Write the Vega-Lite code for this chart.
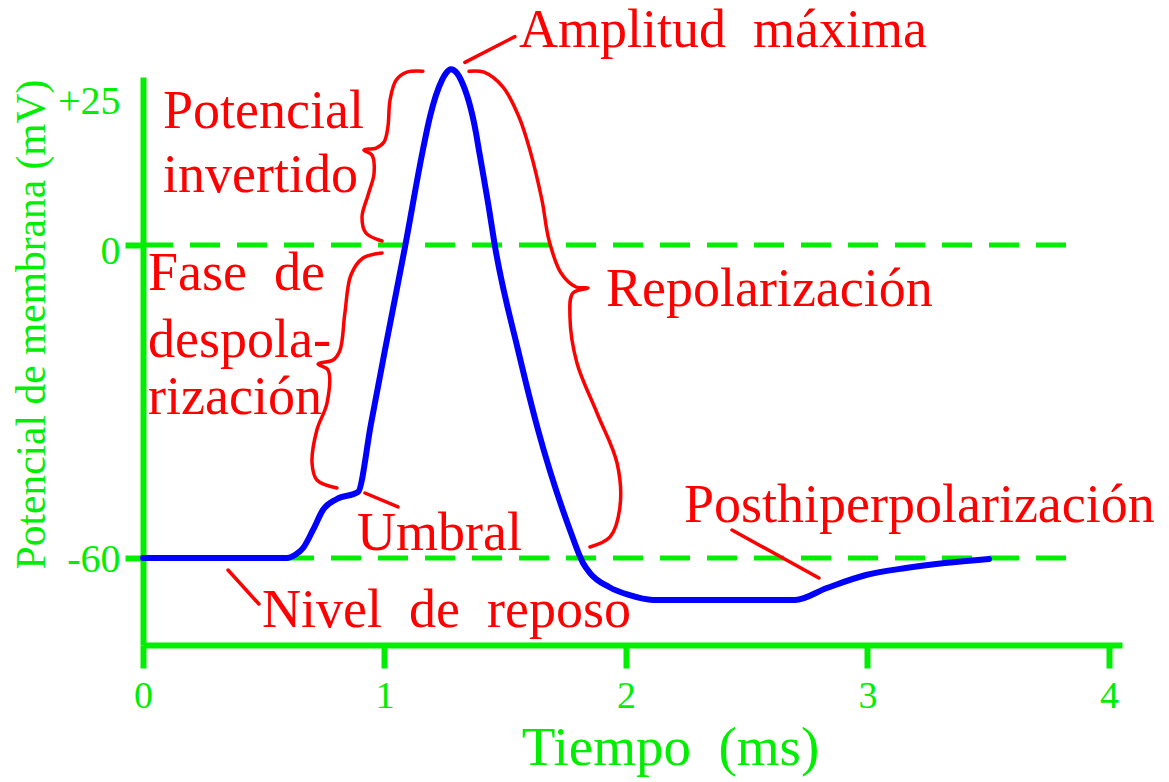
{
  "$schema": "https://vega.github.io/schema/vega-lite/v6.json",
  "autosize": "none",
  "width": 979,
  "height": 568,
  "padding": {"left": 143, "top": 77, "right": 47, "bottom": 137},
  "background": "white",
  "config": {"view": {"stroke": null}, "axis": {"grid": false}},
  "encoding": {
    "x": {
      "field": "t", "type": "quantitative",
      "scale": {"domain": [0, 4.054], "nice": false, "zero": false},
      "axis": {
        "values": [0, 1, 2, 3, 4], "grid": false,
        "domainColor": "#00ee00", "domainWidth": 6,
        "tickColor": "#00ee00", "tickWidth": 6, "tickSize": 23,
        "labelColor": "#00ee00", "labelFont": "Liberation Serif", "labelFontSize": 38,
        "labelPadding": 9, "labelAngle": 0, "labelFlush": false, "labelOverlap": false,
        "title": "Tiempo\u00a0\u00a0(ms)", "titleColor": "#00ee00", "titleFont": "Liberation Serif",
        "titleFontSize": 55, "titleFontWeight": "normal",
        "titleX": 527, "titleY": 119, "titleAlign": "center", "titleBaseline": "alphabetic"
      }
    },
    "y": {
      "field": "v", "type": "quantitative",
      "scale": {"domain": [-76.68, -60, 0, 25, 29], "range": [568, 481, 168, 23, 0], "nice": false, "zero": false},
      "axis": {
        "values": [-60, 0, 25], "grid": false,
        "domainColor": "#00ee00", "domainWidth": 6,
        "tickColor": "#00ee00", "tickWidth": 6, "tickSize": 18,
        "tickOpacity": {"condition": {"test": "datum.value == 25", "value": 0}, "value": 1},
        "labelExpr": "datum.value == 25 ? '+25' : (datum.value == 0 ? '0' : '-60')",
        "labelColor": "#00ee00", "labelFont": "Liberation Serif", "labelFontSize": 40,
        "labelPadding": 5, "labelBaseline": "middle",
        "labelOffset": {"condition": {"test": "datum.value == 0", "value": 6}, "value": 1},
        "title": "Potencial de membrana (mV)", "titleColor": "#00ee00", "titleFont": "Liberation Serif",
        "titleFontSize": 41.5, "titleFontWeight": "normal", "titleAngle": 270,
        "titleX": -111, "titleY": 247, "titleAlign": "center", "titleBaseline": "middle"
      }
    }
  },
  "layer": [
    {
      "data": {"values": [
        {"t": 0, "t2": 3.867, "v": 0},
        {"t": 0, "t2": 3.867, "v": -60}
      ]},
      "mark": {"type": "rule", "color": "#00ee00", "strokeWidth": 5, "strokeDash": [30, 17]},
      "encoding": {"x2": {"field": "t2"}}
    },
    {
      "data": {"values": [
        {"t": 0, "v": -60}, {"t": 0.596, "v": -60}, {"t": 0.629, "v": -59.42}, {"t": 0.663, "v": -58.08},
        {"t": 0.704, "v": -54.63}, {"t": 0.745, "v": -50.8}, {"t": 0.803, "v": -48.69}, {"t": 0.89, "v": -47.35},
        {"t": 0.944, "v": -34.31}, {"t": 1.002, "v": -20.13}, {"t": 1.085, "v": -0.38}, {"t": 1.159, "v": 16.38},
        {"t": 1.188, "v": 22.07}, {"t": 1.238, "v": 28.45},
        {"t": 1.255, "v": 29.66}, {"t": 1.275, "v": 30.34}, {"t": 1.3, "v": 29.66}, {"t": 1.317, "v": 28.45},
        {"t": 1.379, "v": 19.31}, {"t": 1.391, "v": 16.38}, {"t": 1.429, "v": 7.24}, {"t": 1.458, "v": -0.38},
        {"t": 1.553, "v": -20.13}, {"t": 1.636, "v": -35.46}, {"t": 1.768, "v": -54.63}, {"t": 1.822, "v": -60.96},
        {"t": 1.851, "v": -62.88}, {"t": 1.93, "v": -65.56}, {"t": 2.012, "v": -67.09}, {"t": 2.112, "v": -68.05},
        {"t": 2.7, "v": -68.05}, {"t": 2.832, "v": -65.75}, {"t": 2.994, "v": -63.26}, {"t": 3.159, "v": -61.92},
        {"t": 3.321, "v": -60.96}, {"t": 3.503, "v": -60.19}
      ]},
      "mark": {"type": "line", "color": "#0000ff", "strokeWidth": 6, "strokeCap": "round", "strokeJoin": "round", "interpolate": "monotone", "clip": false},
      "encoding": {}
    },
    {
      "data": {"values": [
        {"id": "b1", "i": 1, "t": 1.159, "v": 30.0}, {"id": "b1", "i": 2, "t": 1.093, "v": 29.83},
        {"id": "b1", "i": 3, "t": 1.048, "v": 28.45}, {"id": "b1", "i": 4, "t": 1.023, "v": 25.0},
        {"id": "b1", "i": 5, "t": 1.014, "v": 20.34}, {"id": "b1", "i": 6, "t": 0.998, "v": 17.76},
        {"id": "b1", "i": 7, "t": 0.965, "v": 16.72}, {"id": "b1", "i": 8, "t": 0.915, "v": 16.38},
        {"id": "b1", "i": 9, "t": 0.948, "v": 15.52}, {"id": "b1", "i": 10, "t": 0.957, "v": 12.41},
        {"id": "b1", "i": 11, "t": 0.932, "v": 8.62}, {"id": "b1", "i": 12, "t": 0.907, "v": 4.83},
        {"id": "b1", "i": 13, "t": 0.923, "v": 2.07}, {"id": "b1", "i": 14, "t": 0.99, "v": 0.69},
        {"id": "b2", "i": 1, "t": 0.99, "v": -1.53}, {"id": "b2", "i": 2, "t": 0.911, "v": -2.49},
        {"id": "b2", "i": 3, "t": 0.861, "v": -5.75}, {"id": "b2", "i": 4, "t": 0.836, "v": -13.03},
        {"id": "b2", "i": 5, "t": 0.816, "v": -20.13}, {"id": "b2", "i": 6, "t": 0.787, "v": -22.04},
        {"id": "b2", "i": 7, "t": 0.725, "v": -22.81}, {"id": "b2", "i": 8, "t": 0.766, "v": -23.96},
        {"id": "b2", "i": 9, "t": 0.762, "v": -30.29}, {"id": "b2", "i": 10, "t": 0.72, "v": -35.46},
        {"id": "b2", "i": 11, "t": 0.7, "v": -41.79}, {"id": "b2", "i": 12, "t": 0.72, "v": -45.05},
        {"id": "b2", "i": 13, "t": 0.803, "v": -46.58},
        {"id": "b3", "i": 1, "t": 1.35, "v": 30.0}, {"id": "b3", "i": 2, "t": 1.412, "v": 29.83},
        {"id": "b3", "i": 3, "t": 1.491, "v": 27.24}, {"id": "b3", "i": 4, "t": 1.557, "v": 22.07},
        {"id": "b3", "i": 5, "t": 1.602, "v": 16.38}, {"id": "b3", "i": 6, "t": 1.652, "v": 7.76},
        {"id": "b3", "i": 7, "t": 1.681, "v": 0.86}, {"id": "b3", "i": 8, "t": 1.731, "v": -5.37},
        {"id": "b3", "i": 9, "t": 1.793, "v": -8.05}, {"id": "b3", "i": 10, "t": 1.843, "v": -8.24},
        {"id": "b3", "i": 11, "t": 1.78, "v": -9.2}, {"id": "b3", "i": 12, "t": 1.768, "v": -13.8},
        {"id": "b3", "i": 13, "t": 1.797, "v": -22.62}, {"id": "b3", "i": 14, "t": 1.88, "v": -32.2},
        {"id": "b3", "i": 15, "t": 1.963, "v": -41.79}, {"id": "b3", "i": 16, "t": 1.975, "v": -50.22},
        {"id": "b3", "i": 17, "t": 1.934, "v": -55.97}, {"id": "b3", "i": 18, "t": 1.851, "v": -57.89}
      ]},
      "mark": {"type": "line", "color": "#ff0000", "strokeWidth": 3.5, "strokeCap": "round", "strokeJoin": "round", "interpolate": "catmull-rom", "clip": false},
      "encoding": {"detail": {"field": "id"}, "order": {"field": "i", "type": "quantitative"}}
    },
    {
      "data": {"values": [
        {"id": "p1", "i": 1, "t": 1.333, "v": 31.55}, {"id": "p1", "i": 2, "t": 1.54, "v": 36.03},
        {"id": "p2", "i": 1, "t": 0.919, "v": -47.54}, {"id": "p2", "i": 2, "t": 1.056, "v": -50.22},
        {"id": "p3", "i": 1, "t": 2.439, "v": -54.63}, {"id": "p3", "i": 2, "t": 2.799, "v": -63.83},
        {"id": "p4", "i": 1, "t": 0.352, "v": -62.3}, {"id": "p4", "i": 2, "t": 0.48, "v": -68.82}
      ]},
      "mark": {"type": "line", "color": "#ff0000", "strokeWidth": 3.5, "strokeCap": "round", "clip": false},
      "encoding": {"detail": {"field": "id"}, "order": {"field": "i", "type": "quantitative"}}
    },
    {
      "data": {"values": [
        {"label": "Amplitud\u00a0\u00a0máxima", "t": 1.557, "v": 34.14},
        {"label": "Potencial", "t": 0.083, "v": 20.17},
        {"label": "invertido", "t": 0.083, "v": 9.14},
        {"label": "Fase\u00a0\u00a0de", "t": 0.021, "v": -8.63},
        {"label": "despola-", "t": 0.021, "v": -21.47},
        {"label": "rización", "t": 0.021, "v": -32.39},
        {"label": "Repolarización", "t": 1.917, "v": -11.69},
        {"label": "Umbral", "t": 0.886, "v": -58.46},
        {"label": "Posthiperpolarización", "t": 2.24, "v": -53.1},
        {"label": "Nivel\u00a0\u00a0de\u00a0\u00a0reposo", "t": 0.493, "v": -73.23}
      ]},
      "mark": {"type": "text", "color": "#ff0000", "font": "Liberation Serif", "fontSize": 54, "align": "left", "baseline": "alphabetic", "clip": false},
      "encoding": {"text": {"field": "label"}}
    }
  ]
}
